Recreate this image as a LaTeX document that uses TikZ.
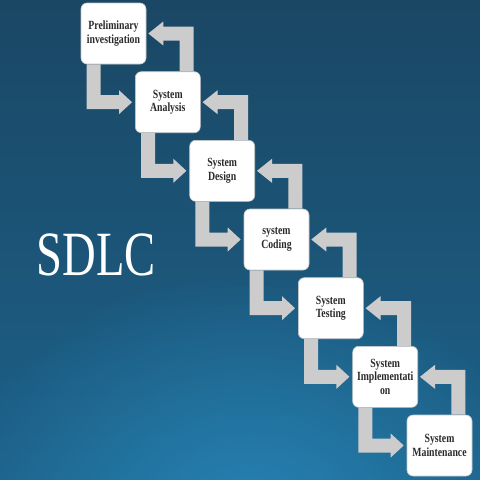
\documentclass[tikz,border=0pt]{standalone}
\usepackage{fontspec}
\usetikzlibrary{calc,fadings,backgrounds}
\newfontfamily\boxfont[FakeStretch=0.78]{Liberation Serif}
\newfontfamily\titlefont[FakeStretch=0.74]{Liberation Serif}
\definecolor{bgtop}{HTML}{1A4764}
\definecolor{bgbot}{HTML}{1D6189}
\definecolor{bglight}{HTML}{2683B4}
\definecolor{arrowgray}{RGB}{204,204,204}
\definecolor{boxtext}{HTML}{2A2A2A}
\tikzfading[name=glowfade, inner color=transparent!0, outer color=transparent!100]
\tikzset{
  stagebox/.style={draw=gray!45, line width=0.6pt, fill=white, rounded corners=6pt,
    minimum width=65pt, minimum height=61pt, inner sep=1pt, align=center,
    font=\boxfont\bfseries\fontsize{12.5}{13.5}\selectfont, text=boxtext},
  arrowfill/.style={fill=arrowgray}
}
\newcommand{\downright}[2]{%
  \path[arrowfill] let \p1=(#1.south west), \p2=(#2.west) in
  (\x1+6pt,\y1) -- (\x1+6pt,\y2-7pt) -- (\x2-16pt,\y2-7pt) -- (\x2-16pt,\y2-12pt)
  -- (\x2-3pt,\y2) -- (\x2-16pt,\y2+12pt) -- (\x2-16pt,\y2+7pt) -- (\x1+20pt,\y2+7pt)
  -- (\x1+20pt,\y1) -- cycle;}
\newcommand{\upleft}[2]{%
  \path[arrowfill] let \p1=(#1.north east), \p2=(#2.east) in
  (\x1-7pt,\y1) -- (\x1-7pt,\y2+7pt) -- (\x2+17pt,\y2+7pt) -- (\x2+17pt,\y2+12pt)
  -- (\x2+2pt,\y2) -- (\x2+17pt,\y2-12pt) -- (\x2+17pt,\y2-7pt) -- (\x1-21pt,\y2-7pt)
  -- (\x1-21pt,\y1) -- cycle;}
\begin{document}
\begin{tikzpicture}[x=1pt,y=-1pt]
\useasboundingbox (0,0) rectangle (480,480);
\node[stagebox] (b1) at (113.5,33.5) {Preliminary\\investigation};
\node[stagebox] (b2) at (167.8,102.2) {System\\Analysis};
\node[stagebox] (b3) at (222.2,170.8) {System\\Design};
\node[stagebox] (b4) at (276.5,239.5) {system\\Coding};
\node[stagebox] (b5) at (330.8,308.2) {System\\Testing};
\node[stagebox] (b6) at (385.2,376.8) {System\\Implementati\\on};
\node[stagebox] (b7) at (439.5,445.5) {System\\Maintenance};
\node[anchor=base, text=white, inner sep=0pt, font=\titlefont\fontsize{63}{63}\selectfont] (title) at (96.5,275) {SDLC};
\begin{pgfonlayer}{background}
\shade[top color=bgtop, bottom color=bgbot] (0,0) rectangle (480,480);
\begin{scope}
\clip (0,0) rectangle (480,480);
\fill[bglight, path fading=glowfade] (250,520) ellipse (300 and 250);
\end{scope}
\downright{b1}{b2}
\downright{b2}{b3}
\downright{b3}{b4}
\downright{b4}{b5}
\downright{b5}{b6}
\downright{b6}{b7}
\upleft{b2}{b1}
\upleft{b3}{b2}
\upleft{b4}{b3}
\upleft{b5}{b4}
\upleft{b6}{b5}
\upleft{b7}{b6}
\end{pgfonlayer}
\end{tikzpicture}
\end{document}
